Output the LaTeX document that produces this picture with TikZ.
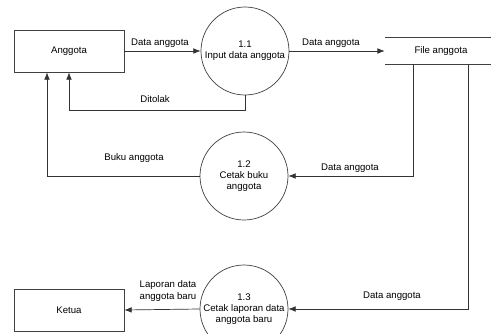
\documentclass[tikz,border=0pt]{standalone}
\usepackage{fontspec}
\setmainfont{Liberation Sans}
\usepackage{tikz}
\usetikzlibrary{positioning,arrows.meta}

\tikzset{
  entity/.style={draw=black!75, line width=0.6pt, rectangle, minimum width=3.3cm, minimum height=1.26cm},
  process/.style={draw=black!75, line width=0.6pt, circle, minimum size=2.64cm, inner sep=0pt, align=center},
  flow/.style={draw=black!80, line width=0.6pt, -{Latex[length=2.2mm,width=1.7mm]}},
  lbl/.style={inner sep=0pt, align=center}
}

\begin{document}
\begin{tikzpicture}[x=0.03cm, y=-0.03cm, font=\fontsize{8.2}{9.6}\selectfont]
    \useasboundingbox (0,0) rectangle (491,334);

    % Entities
    \node[entity] (anggota) at (69,51) {Anggota};
    \node[entity] (ketua) at (69,310) {Ketua};

    % Processes
    \node[process] (p11) at (245,51) {1.1\\Input data anggota};
    \node[process] (p12) at (244,176) {1.2\\Cetak buku\\anggota};
    \node[process] (p13) at (244,309) {1.3\\Cetak laporan data\\anggota baru};

    % Data store
    \node[minimum width=3.36cm, minimum height=0.78cm, inner sep=0pt] (file) at (441,51) {File anggota};
    \draw[black!75, line width=0.6pt] (file.north west) -- (file.north east);
    \draw[black!75, line width=0.6pt] (file.south west) -- (file.south east);

    % Flows
    \draw[flow] (anggota.east) -- (p11.west);
    \draw[flow] (p11.east) -- (file.west);
    \coordinate (ditolak) at (69,110);
    \draw[flow] (p11.south) |- (ditolak) -- (anggota.south);
    \draw[flow] (p12.west) -| ([xshift=-0.66cm]anggota.south);
    \draw[flow] ([xshift=-0.84cm]file.south) |- (p12.east);
    \draw[flow] ([xshift=0.81cm]file.south) |- (p13.east);
    \draw[flow] (p13.west) -- (ketua.east);

    % Labels
    \node[lbl] (l1) at (160,43) {Data anggota};
    \node[lbl] (l2) at (331,43) {Data anggota};
    \node[lbl] (l3) at (155,99) {Ditolak};
    \node[lbl] (l4) at (134,158) {Buku anggota};
    \node[lbl] (l5) at (350,168) {Data anggota};
    \node[lbl] (l6) at (168,291) {Laporan data\\anggota baru};
    \node[lbl] (l7) at (392,296) {Data anggota};
\end{tikzpicture}
\end{document}
